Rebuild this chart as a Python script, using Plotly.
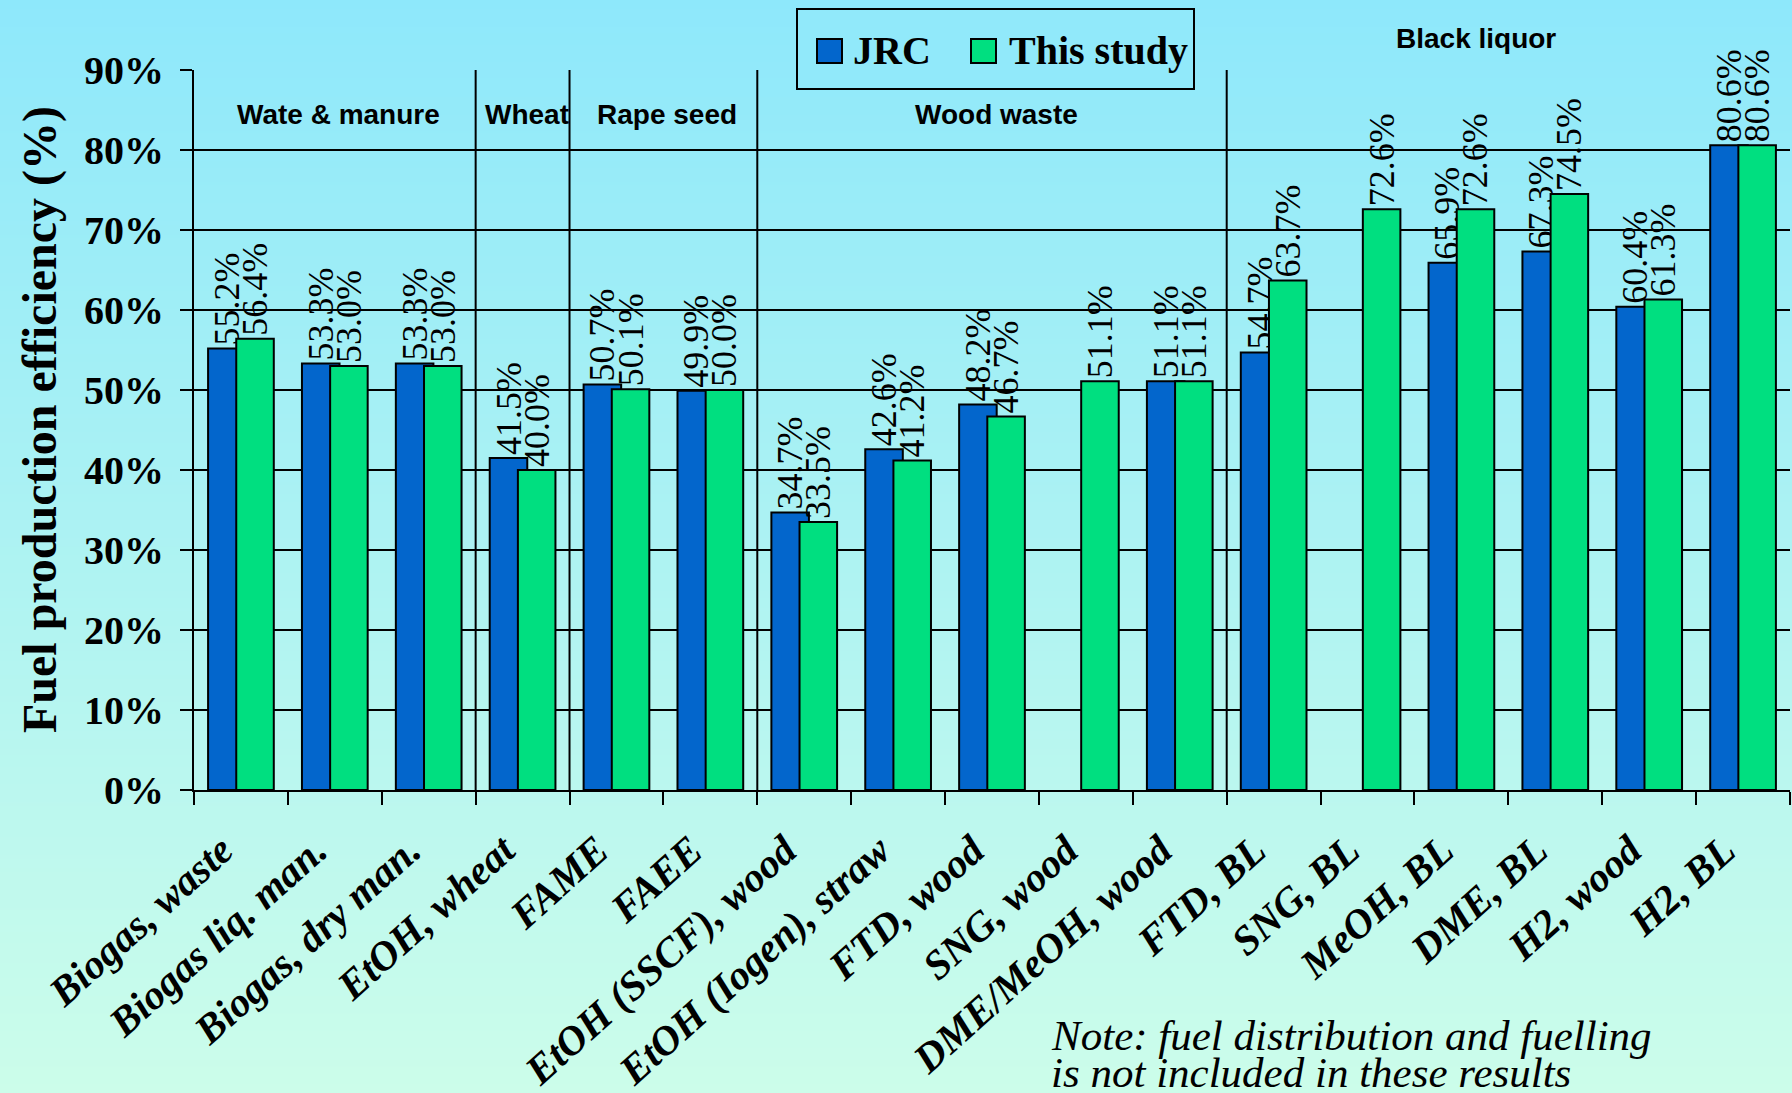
import base64
import struct
import zlib

import plotly.graph_objects as go

# ---------------------------------------------------------------- data
categories = [
    "Biogas, waste", "Biogas liq. man.", "Biogas, dry man.", "EtOH, wheat",
    "FAME", "FAEE", "EtOH (SSCF), wood", "EtOH (Iogen), straw", "FTD, wood",
    "SNG, wood", "DME/MeOH, wood", "FTD, BL", "SNG, BL", "MeOH, BL",
    "DME, BL", "H2, wood", "H2, BL",
]
jrc = [55.2, 53.3, 53.3, 41.5, 50.7, 49.9, 34.7, 42.6, 48.2, None, 51.1,
       54.7, None, 65.9, 67.3, 60.4, 80.6]
this_study = [56.4, 53.0, 53.0, 40.0, 50.1, 50.0, 33.5, 41.2, 46.7, 51.1, 51.1,
              63.7, 72.6, 72.6, 74.5, 61.3, 80.6]

y_ticks = [0, 10, 20, 30, 40, 50, 60, 70, 80, 90]
y_tick_labels = ["0%", "10%", "20%", "30%", "40%", "50%", "60%", "70%", "80%", "90%"]

# feedstock groups: name and the index range of categories they cover
group_names = ["Wate & manure", "Wheat", "Rape seed", "Wood waste", "Black liquor"]
group_first = [0, 3, 4, 6, 11]
group_last = [2, 3, 5, 10, 16]

note_lines = ["Note: fuel distribution and fuelling",
              "is not included in these results"]

# ---------------------------------------------------------------- layout constants
W, H = 1792, 1093
PLOT_L, PLOT_R, PLOT_T, PLOT_B = 194, 1790, 70, 790
SERIF = "Liberation Serif, Times New Roman, serif"
SANS = "Liberation Sans, Arial, sans-serif"
BLUE = "#0366CC"
GREEN = "#00DF80"
BG_TOP = (142, 232, 251)
BG_BOTTOM = (204, 253, 234)


def px_x(x):
    return x / W


def px_y(y):
    return 1 - y / H


def bg_at(y):
    t = y / (H - 1)
    return tuple(round(a + (b - a) * t) for a, b in zip(BG_TOP, BG_BOTTOM))


def gradient_png(height):
    """1-pixel-wide vertical gradient, encoded as a PNG data URI."""
    raw = b"".join(b"\x00" + bytes(bg_at(i * (H - 1) / (height - 1))) for i in range(height))

    def chunk(tag, data):
        return (struct.pack(">I", len(data)) + tag + data
                + struct.pack(">I", zlib.crc32(tag + data) & 0xFFFFFFFF))

    png = (b"\x89PNG\r\n\x1a\n"
           + chunk(b"IHDR", struct.pack(">IIBBBBB", 1, height, 8, 2, 0, 0, 0))
           + chunk(b"IDAT", zlib.compress(raw, 9))
           + chunk(b"IEND", b""))
    return "data:image/png;base64," + base64.b64encode(png).decode()


# ---------------------------------------------------------------- bars
bar_common = dict(
    width=0.40,
    texttemplate="%{y:.1f}%",
    textposition="outside",
    textangle=-90,
    textfont=dict(family=SERIF, size=36, color="black"),
    cliponaxis=False,
    constraintext="none",
    showlegend=False,
    hoverinfo="x+y+name",
)

fig = go.Figure()
fig.add_trace(go.Bar(x=categories, y=jrc, name="JRC", offset=-0.35,
                     marker=dict(color=BLUE, line=dict(color="black", width=2)),
                     **bar_common))
fig.add_trace(go.Bar(x=categories, y=this_study, name="This study", offset=-0.05,
                     marker=dict(color=GREEN, line=dict(color="black", width=2)),
                     **bar_common))

# ---------------------------------------------------------------- group separators & labels
shapes = []
for first in group_first[1:]:
    shapes.append(dict(type="line", xref="x", yref="y", x0=first - 0.5, x1=first - 0.5,
                       y0=0, y1=90.5, line=dict(color="black", width=2), layer="below"))

annotations = []
for name, first, last in zip(group_names, group_first, group_last):
    label = dict(x=(first + last) / 2, xref="x", text=name, showarrow=False,
                 xanchor="center", yanchor="middle",
                 font=dict(family=SANS, size=28, color="black", weight="bold"))
    if name == "Black liquor":
        # sits above the plotting area, so it is placed in page coordinates
        label.update(y=px_y(38), yref="paper", xshift=-32)
    else:
        label.update(y=84.5, yref="y", xshift=4)
    annotations.append(label)

# ---------------------------------------------------------------- legend box
LEG = dict(x0=797, x1=1194, y0=9, y1=89)
leg_fill = "rgb(%d,%d,%d)" % bg_at(49)
shapes.append(dict(type="rect", xref="paper", yref="paper",
                   x0=px_x(LEG["x0"]), x1=px_x(LEG["x1"]),
                   y0=px_y(LEG["y1"]), y1=px_y(LEG["y0"]),
                   fillcolor=leg_fill, line=dict(color="black", width=2), layer="above"))
for sx, color, label, tx in [(817, BLUE, "JRC", 851), (971, GREEN, "This study", 1007)]:
    shapes.append(dict(type="rect", xref="paper", yref="paper",
                       x0=px_x(sx), x1=px_x(sx + 25), y0=px_y(63), y1=px_y(39),
                       fillcolor=color, line=dict(color="black", width=2), layer="above"))
    annotations.append(dict(x=px_x(tx), y=px_y(51), xref="paper", yref="paper",
                            text=label, showarrow=False, xanchor="left", yanchor="middle",
                            font=dict(family=SERIF, size=40, color="black", weight="bold")))

# ---------------------------------------------------------------- axis title and note
annotations.append(dict(x=px_x(40), y=px_y(420), xref="paper", yref="paper",
                        text="Fuel production efficiency (%)", textangle=-90,
                        showarrow=False, xanchor="center", yanchor="middle",
                        font=dict(family=SERIF, size=48, color="black", weight="bold")))
for line, cy in zip(note_lines, [1035, 1072]):
    annotations.append(dict(x=px_x(1049), y=px_y(cy), xref="paper", yref="paper",
                            text=line, showarrow=False, xanchor="left", yanchor="middle",
                            font=dict(family=SERIF, size=43, color="black", style="italic")))

# ---------------------------------------------------------------- layout
fig.update_layout(
    template="none",
    width=W, height=H,
    margin=dict(l=0, r=0, t=0, b=0, pad=0),
    paper_bgcolor="rgb(%d,%d,%d)" % BG_TOP,
    plot_bgcolor="rgba(0,0,0,0)",
    barmode="overlay",
    showlegend=False,
    shapes=shapes,
    annotations=annotations,
    images=[dict(source=gradient_png(H), xref="paper", yref="paper", x=0, y=1,
                 sizex=1, sizey=1, xanchor="left", yanchor="top",
                 sizing="stretch", layer="below")],
    xaxis=dict(
        domain=[px_x(PLOT_L), px_x(PLOT_R)],
        type="category", range=[-0.5, len(categories) - 0.5],
        tickson="boundaries", ticks="outside", ticklen=13, tickwidth=2, tickcolor="black",
        showline=True, linecolor="black", linewidth=2,
        showgrid=False, zeroline=False, automargin=False,
        tickangle=-42, ticklabelstandoff=18, ticklabelshift=-19,
        tickfont=dict(family=SERIF, size=41, color="black", weight="bold", style="italic"),
    ),
    yaxis=dict(
        domain=[px_y(PLOT_B), px_y(PLOT_T)],
        range=[0, 90], tickvals=y_ticks, ticktext=y_tick_labels,
        ticks="outside", ticklen=12, tickwidth=2, tickcolor="black",
        showline=True, linecolor="black", linewidth=2,
        showgrid=True, gridcolor="black", gridwidth=2, zeroline=False,
        automargin=False, ticklabelstandoff=8,
        tickfont=dict(family=SERIF, size=40, color="black", weight="bold"),
    ),
)

fig.write_html("out.html")
